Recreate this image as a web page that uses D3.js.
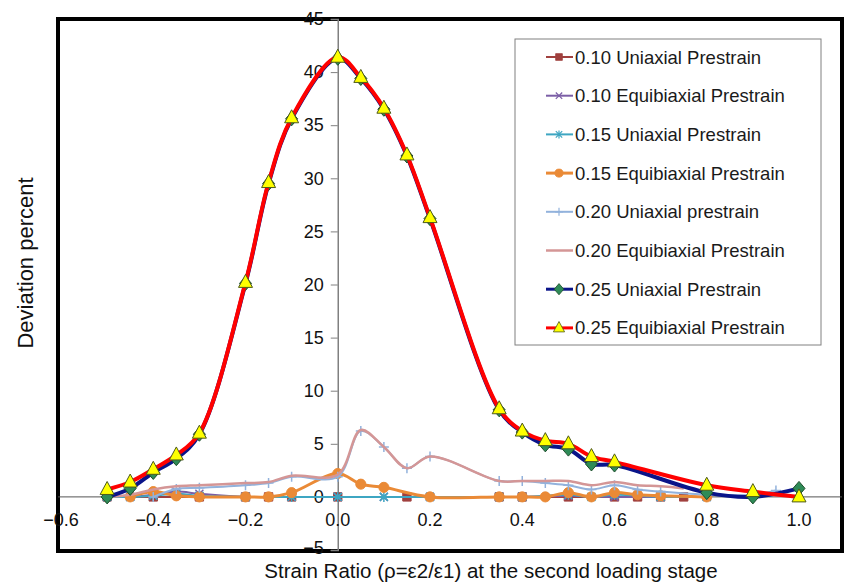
<!DOCTYPE html>
<html>
<head>
<meta charset="utf-8">
<script src="https://cdn.jsdelivr.net/npm/d3@7"></script>
<style>
  body { margin: 0; background: #fff; }
  text { font-family: Arial, "Liberation Sans", sans-serif; }
</style>
</head>
<body>
<div id="chart"></div>
<script>
var canvasWidth = 848;
var canvasHeight = 582;

/*Series names and values*/
var seriesNames = ["0.10 Uniaxial Prestrain", "0.10 Equibiaxial Prestrain", "0.15 Uniaxial Prestrain",
    "0.15 Equibiaxial Prestrain", "0.20 Uniaxial prestrain", "0.20 Equibiaxial Prestrain",
    "0.25 Uniaxial Prestrain", "0.25 Equibiaxial Prestrain"];

var u10x = [-0.5, -0.4, -0.3, -0.2, -0.15, -0.1, 0, 0.15, 0.35, 0.4, 0.5, 0.6, 0.65, 0.7, 0.75];
var u10y = [0, 0, 0, 0, 0, 0, 0, 0, 0, 0, 0, 0, 0, 0, 0];

var e10x = [-0.5, -0.45, -0.4, -0.35, -0.3, -0.2, -0.1, 0, 0.1, 0.2, 0.4, 0.5, 0.6, 0.7, 0.8];
var e10y = [0, 0, 0.2, 0.5, 0.3, 0, 0, 0, 0, 0, 0, 0.1, 0, 0, 0];

var u15x = [-0.5, -0.45, -0.4, -0.35, -0.3, -0.2, -0.1, 0, 0.1, 0.2, 0.35, 0.4, 0.5, 0.55, 0.6, 0.7, 0.8];
var u15y = [0, 0, 0.1, 0.3, 0.1, 0, 0, 0, 0, 0, 0, 0, 0.2, 0, 0.2, 0, 0];

var e15x = [-0.45, -0.4, -0.35, -0.3, -0.2, -0.15, -0.1, 0, 0.05, 0.1, 0.2, 0.35, 0.4, 0.45, 0.5, 0.55, 0.6, 0.65, 0.7, 0.8];
var e15y = [0, 0.5, 0.1, 0, 0, 0, 0.4, 2.2, 1.2, 0.9, 0, 0, 0, 0, 0.4, 0, 0.4, 0.2, 0.1, 0];

var u20x = [-0.4, -0.35, -0.3, -0.2, -0.15, -0.1, 0, 0.05, 0.1, 0.15, 0.2, 0.35, 0.4, 0.45, 0.5, 0.55, 0.6, 0.65, 0.7, 0.8, 0.9, 0.95];
var u20y = [0, 0.75, 0.85, 1.1, 1.3, 1.9, 1.9, 6.2, 4.7, 2.7, 3.8, 1.5, 1.5, 1.3, 1.1, 0.7, 1.1, 0.7, 0.5, 0.2, 0.2, 0.6];

var e20x = [-0.5, -0.45, -0.4, -0.35, -0.3, -0.2, -0.15, -0.1, 0, 0.05, 0.1, 0.15, 0.2, 0.35, 0.4, 0.45, 0.5, 0.55, 0.6, 0.65, 0.7, 0.75];
var e20y = [0, 0.2, 0.7, 1.0, 1.1, 1.3, 1.4, 2.0, 2.1, 6.3, 4.7, 2.7, 3.8, 1.5, 1.5, 1.5, 1.5, 1.1, 1.4, 1.1, 1.0, 0.8];

var u25x = [-0.5, -0.45, -0.4, -0.35, -0.3, -0.2, -0.15, -0.1, 0, 0.05, 0.1, 0.15, 0.2, 0.35, 0.4, 0.45, 0.5, 0.55, 0.6, 0.8, 0.9, 1.0];
var u25y = [0.0, 0.8, 2.3, 3.6, 5.9, 20.1, 29.5, 35.6, 41.3, 39.4, 36.5, 32.1, 26.2, 8.2, 6.1, 4.9, 4.5, 3.1, 3.0, 0.4, 0.0, 0.8];

var e25x = [-0.5, -0.45, -0.4, -0.35, -0.3, -0.2, -0.15, -0.1, 0, 0.05, 0.1, 0.15, 0.2, 0.35, 0.4, 0.45, 0.5, 0.55, 0.6, 0.8, 0.9, 1.0];
var e25y = [0.7, 1.4, 2.6, 3.95, 6.0, 20.2, 29.6, 35.7, 41.4, 39.5, 36.6, 32.2, 26.3, 8.3, 6.2, 5.3, 5.0, 3.8, 3.3, 1.1, 0.5, 0.0];

var xTicks = [-0.6, -0.4, -0.2, 0.0, 0.2, 0.4, 0.6, 0.8, 1.0];
var yTicks = [-5, 0, 5, 10, 15, 20, 25, 30, 35, 40, 45];

/*Styles for each series, in draw order*/
var styles = [
    {x: u10x, y: u10y, color: "#a0403e", width: 2, marker: "square", fill: "#a0403e", stroke: "#a0403e"},
    {x: e10x, y: e10y, color: "#7b5ea6", width: 2, marker: "cross", fill: "none", stroke: "#7b5ea6"},
    {x: u15x, y: u15y, color: "#3ea6c2", width: 2, marker: "asterisk", fill: "none", stroke: "#3ea6c2"},
    {x: e15x, y: e15y, color: "#ea8a36", width: 3, marker: "circle", fill: "#ea8a36", stroke: "#ea8a36"},
    {x: u20x, y: u20y, color: "#92b2dc", width: 2, marker: "plus", fill: "none", stroke: "#92b2dc"},
    {x: e20x, y: e20y, color: "#d49696", width: 2.5, marker: "none", fill: "none", stroke: "none"},
    {x: u25x, y: u25y, color: "#0a1489", width: 4, marker: "diamond", fill: "#2e8b57", stroke: "#1d4d2a"},
    {x: e25x, y: e25y, color: "#ff0000", width: 4, marker: "triangle", fill: "#ffff00", stroke: "#4d5a1c"}
];

var svg = d3.select("#chart").append("svg")
    .attr("width", canvasWidth)
    .attr("height", canvasHeight);

var xScale = d3.scaleLinear().domain([-0.6, 1.0]).range([61, 799]);
var yScale = d3.scaleLinear().domain([-5, 45]).range([550, 19]);

/*Outer frame*/
svg.append("rect")
    .attr("x", 58).attr("y", 19)
    .attr("width", 784).attr("height", 532)
    .attr("fill", "none")
    .attr("stroke", "#000")
    .attr("stroke-width", 4);

/*Y axis through x = 0*/
var yAxis = svg.append("g")
    .attr("transform", "translate(" + xScale(0) + ",0)")
    .call(d3.axisLeft(yScale).tickValues(yTicks).tickSize(7).tickPadding(7).tickFormat(d3.format("d")));
yAxis.select(".domain").attr("stroke", "#808080").attr("stroke-width", 1.5);
yAxis.selectAll(".tick line").attr("stroke", "#808080");
yAxis.selectAll(".tick text").attr("font-size", 18).attr("fill", "#111")
    .style("font-family", "Arial, 'Liberation Sans', sans-serif");
/*lift the bottom label a little so it clears the axis title*/
yAxis.selectAll(".tick text").filter(function (d) { return d === -5; })
    .attr("dy", "0.2em");

/*X axis through y = 0*/
svg.append("line")
    .attr("x1", 58).attr("x2", 842)
    .attr("y1", yScale(0)).attr("y2", yScale(0))
    .attr("stroke", "#555").attr("stroke-width", 1);

svg.append("g").selectAll("text")
    .data(xTicks)
    .join("text")
    .attr("x", function (d) { return xScale(d); })
    .attr("y", yScale(0) + 29)
    .attr("text-anchor", "middle")
    .attr("font-size", 18)
    .attr("fill", "#111")
    .text(function (d) { return d3.format(".1f")(d); });

/*Series lines and markers*/
var line = d3.line()
    .x(function (d) { return xScale(d[0]); })
    .y(function (d) { return yScale(d[1]); })
    .curve(d3.curveCatmullRom.alpha(0.5));

function markerPath(type) {
    if (type === "square") return d3.symbol(d3.symbolSquare, 70)();
    if (type === "circle") return d3.symbol(d3.symbolCircle, 80)();
    if (type === "diamond") return "M0,-7L6,0L0,7L-6,0Z";
    if (type === "triangle") return "M0,-8L7,5L-7,5Z";
    if (type === "cross") return "M-4,-4L4,4M-4,4L4,-4";
    if (type === "plus") return "M-5,0L5,0M0,-5L0,5";
    if (type === "asterisk") return "M-4,-4L4,4M-4,4L4,-4M0,-5L0,5";
    return null;
}

styles.forEach(function (s) {
    var pts = s.x.map(function (x, i) { return [x, s.y[i]]; });
    var g = svg.append("g");
    g.append("path")
        .attr("d", line(pts))
        .attr("fill", "none")
        .attr("stroke", s.color)
        .attr("stroke-width", s.width)
        .attr("stroke-linejoin", "round");
    var mp = markerPath(s.marker);
    if (mp) {
        g.selectAll("path.m")
            .data(pts)
            .join("path")
            .attr("class", "m")
            .attr("transform", function (d) { return "translate(" + xScale(d[0]) + "," + yScale(d[1]) + ")"; })
            .attr("d", mp)
            .attr("fill", s.fill)
            .attr("stroke", s.stroke)
            .attr("stroke-width", s.fill === "none" ? 1.5 : 1);
    }
});

/*Legend*/
var legend = svg.append("g");
legend.append("rect")
    .attr("x", 515).attr("y", 39)
    .attr("width", 306).attr("height", 306)
    .attr("fill", "#fff")
    .attr("stroke", "#808080")
    .attr("stroke-width", 1);

styles.forEach(function (s, i) {
    var y = 57 + i * 38.7;
    legend.append("line")
        .attr("x1", 546).attr("x2", 573)
        .attr("y1", y).attr("y2", y)
        .attr("stroke", s.color)
        .attr("stroke-width", Math.min(s.width, 3));
    var mp = markerPath(s.marker);
    if (mp) {
        legend.append("path")
            .attr("transform", "translate(559," + y + ") scale(0.8)")
            .attr("d", mp)
            .attr("fill", s.fill)
            .attr("stroke", s.stroke)
            .attr("stroke-width", s.fill === "none" ? 1.5 : 1);
    }
    legend.append("text")
        .attr("x", 575).attr("y", y + 6.5)
        .attr("font-size", 18.5)
        .attr("fill", "#1a1a1a")
        .text(seriesNames[i]);
});

/*Axis titles*/
svg.append("text")
    .attr("transform", "translate(33,263) rotate(-90)")
    .attr("text-anchor", "middle")
    .attr("font-size", 22)
    .attr("fill", "#111")
    .text("Deviation percent");

svg.append("text")
    .attr("x", 491).attr("y", 577.5)
    .attr("text-anchor", "middle")
    .attr("font-size", 20.5)
    .attr("fill", "#111")
    .text("Strain Ratio (\u03C1=\u03B52/\u03B51) at the second loading stage");
</script>
</body>
</html>
